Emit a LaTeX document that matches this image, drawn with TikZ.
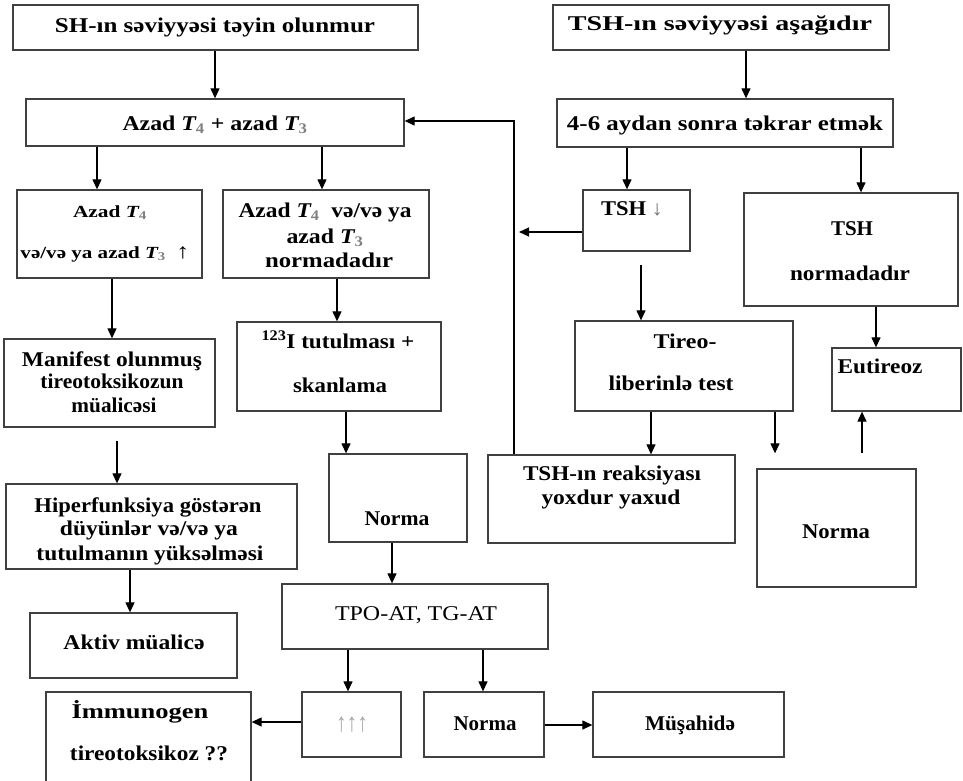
\documentclass[tikz,border=0pt]{standalone}
\usepackage{fontspec}
\setmainfont{Liberation Serif}
\usetikzlibrary{arrows.meta}
% stretch a line of text to a given width (in pt), keeping its height
\newcommand\fitw[2]{\resizebox{#1pt}{\height}{#2}}
\newcommand\Tsub[1]{{\itshape T}\textsubscript{\textcolor{gray}{#1}}}
\begin{document}
\begin{tikzpicture}[x=1pt,y=-1pt,
  box/.style={draw=black!75, line width=1.3pt, inner sep=0pt, anchor=center},
  txt/.style={font=\fontsize{21}{24}\selectfont\bfseries, inner sep=0pt, anchor=mid, yshift=-3pt},
  txtr/.style={font=\fontsize{21}{24}\selectfont, inner sep=0pt, anchor=mid, yshift=-3pt},
  arr/.style={-{Triangle[length=10pt,width=9pt]}, line width=1.2pt}]
\clip (0,0) rectangle (963,781);
\fill[white] (0,0) rectangle (963,781);

% boxes
\node[box, minimum width=405pt, minimum height=45pt] (b1) at (215.5,27.5) {};
\node[box, minimum width=378pt, minimum height=47pt] (b2) at (215,122.5) {};
\node[box, minimum width=336pt, minimum height=45pt] (b3) at (721,27.5) {};
\node[box, minimum width=336pt, minimum height=48pt] (b4) at (725,123) {};
\node[box, minimum width=185pt, minimum height=88pt] (b5) at (109.5,234) {};
\node[box, minimum width=206pt, minimum height=88pt] (b6) at (326,234) {};
\node[box, minimum width=107pt, minimum height=61pt] (b7) at (636.5,220.5) {};
\node[box, minimum width=214pt, minimum height=113pt] (b8) at (851,249.5) {};
\node[box, minimum width=211pt, minimum height=88pt] (b9) at (109.5,383) {};
\node[box, minimum width=204pt, minimum height=89pt] (b10) at (339,366.5) {};
\node[box, minimum width=218pt, minimum height=90pt] (b11) at (684,366) {};
\node[box, minimum width=129pt, minimum height=63pt] (b12) at (896.5,379.5) {};
\node[box, minimum width=291pt, minimum height=85pt] (b13) at (151.5,526.5) {};
\node[box, minimum width=138pt, minimum height=88pt] (b14) at (398,498) {};
\node[box, minimum width=247pt, minimum height=88pt] (b15) at (611.5,499) {};
\node[box, minimum width=159pt, minimum height=118pt] (b16) at (836.5,528) {};
\node[box, minimum width=266pt, minimum height=65pt] (b17) at (415,616.5) {};
\node[box, minimum width=207pt, minimum height=65pt] (b18) at (133.5,645.5) {};
\node[box, minimum width=205pt, minimum height=108pt] (b19) at (148.5,746) {};
\node[box, minimum width=99pt, minimum height=65pt] (b20) at (351.5,724.5) {};
\node[box, minimum width=120pt, minimum height=65pt] (b21) at (484,724.5) {};
\node[box, minimum width=191pt, minimum height=65pt] (b22) at (688.5,724.5) {};

% texts
\node[txt] (t1) at (215,27) {\fitw{320}{SH-ın səviyyəsi təyin olunmur}};
\node[txt] (t2) at (215,125) {\fitw{185}{Azad \Tsub{4} + azad \Tsub{3}}};
\node[txt] (t3) at (720,25) {\fitw{304}{TSH-ın səviyyəsi aşağıdır}};
\node[txt] (t4) at (725,125) {\fitw{316}{4-6 aydan sonra təkrar etmək}};
\node[txt, font=\fontsize{17}{20}\selectfont\bfseries] (t5a) at (110,212) {\fitw{74}{Azad \Tsub{4}}};
\node[txt, font=\fontsize{17}{20}\selectfont\bfseries] (t5b) at (105,253) {\fitw{169}{və/və ya azad \Tsub{3}\enspace{\fontsize{21}{24}\selectfont\mdseries ↑}}};
\node[txt] (t6a) at (325,212) {\fitw{173}{Azad \Tsub{4}\enspace və/və ya}};
\node[txt] (t6b) at (325,238) {\fitw{77}{azad \Tsub{3}}};
\node[txt] (t6c) at (329,262) {\fitw{128}{normadadır}};
\node[txt] (t7) at (632,210) {\fitw{62}{TSH {\mdseries\color{black!55}↓}}};
\node[txt] (t8a) at (852,230) {\fitw{42}{TSH}};
\node[txt] (t8b) at (850,275) {\fitw{120}{normadadır}};
\node[txt] (t9a) at (112,361) {\fitw{180}{Manifest olunmuş}};
\node[txt] (t9b) at (112,383) {\fitw{143}{tireotoksikozun}};
\node[txt] (t9c) at (114,407) {\fitw{85}{müalicəsi}};
\node[txt] (t10a) at (338,343) {\fitw{153}{\textsuperscript{123}I tutulması +}};
\node[txt] (t10b) at (340,387) {\fitw{94}{skanlama}};
\node[txt] (t11a) at (685,343) {\fitw{63}{Tireo-}};
\node[txt] (t11b) at (671,385) {\fitw{125}{liberinlə test}};
\node[txt] (t12) at (880,368) {\fitw{85}{Eutireoz}};
\node[txt] (t13a) at (148,507) {\fitw{227}{Hiperfunksiya göstərən}};
\node[txt] (t13b) at (149,530) {\fitw{178}{düyünlər və/və ya}};
\node[txt] (t13c) at (150,555) {\fitw{227}{tutulmanın yüksəlməsi}};
\node[txt] (t14) at (397,520) {\fitw{65}{Norma}};
\node[txt] (t15a) at (612,475) {\fitw{178}{TSH-ın reaksiyası}};
\node[txt] (t15b) at (611,499) {\fitw{139}{yoxdur yaxud}};
\node[txt] (t16) at (836,533) {\fitw{68}{Norma}};
\node[txtr] (t17) at (416,615) {\fitw{162}{TPO-AT, TG-AT}};
\node[txt] (t18) at (134,644) {\fitw{141}{Aktiv müalicə}};
\node[txt] (t19a) at (140,713) {\fitw{137}{İmmunogen}};
\node[txt] (t19b) at (149,755) {\fitw{158}{tireotoksikoz ??}};
\node[txtr, text=black!35, font=\fontsize{26}{28}\selectfont] (t20) at (352,726) {\fitw{32}{↑↑↑}};
\node[txt] (t21) at (485,725) {\fitw{63}{Norma}};
\node[txt] (t22) at (690,725) {\fitw{90}{Müşahidə}};

% connectors
\draw[arr] (b1.south -| 215,0) -- (b2.north -| 215,0);
\draw[arr] (b3.south -| 746,0) -- (b4.north -| 746,0);
\draw[arr] (b2.south -| 97,0) -- (b5.north -| 97,0);
\draw[arr] (b2.south -| 322,0) -- (b6.north -| 322,0);
\draw[arr] (b4.south -| 627,0) -- (b7.north -| 627,0);
\draw[arr] (b4.south -| 861,0) -- (b8.north -| 861,0);
\draw[arr] (b5.south -| 112,0) -- (b9.north -| 112,0);
\draw[arr] (b6.south -| 337,0) -- (b10.north -| 337,0);
\draw[arr, shorten <=13pt] (b7.south -| 641,0) -- (b11.north -| 641,0);
\draw[arr] (b8.south -| 876,0) -- (b12.north -| 876,0);
\draw[arr, shorten <=13pt] (b9.south -| 117,0) -- (b13.north -| 117,0);
\draw[arr] (b10.south -| 346,0) -- (b14.north -| 346,0);
\draw[arr] (b11.south -| 651,0) -- (b15.north -| 651,0);
\draw[arr, shorten >=15pt] (b11.south -| 775,0) -- (b16.north -| 775,0);
\draw[arr, shorten <=15pt] (b16.north -| 862,0) -- (b12.south -| 862,0);
\draw[arr] (b13.south -| 130,0) -- (b18.north -| 130,0);
\draw[arr] (b14.south -| 392,0) -- (b17.north -| 392,0);
\draw[arr] (b17.south -| 348,0) -- (b20.north -| 348,0);
\draw[arr] (b17.south -| 483,0) -- (b21.north -| 483,0);
\draw[arr] (b20.west |- 0,722) -- (b19.east |- 0,722);
\draw[arr] (b21.east |- 0,725) -- (b22.west |- 0,725);

% return path from the TSH reaction box back to the free T4/T3 test
\coordinate (rb) at (b15.north -| 514,0);
\coordinate (rt) at (514,121);
\draw[arr] (rb) -- (rt) -- (rt -| b2.east);
\draw[arr, shorten >=5pt] (b7.west |- 0,232) -- (rt |- 0,232);
\end{tikzpicture}
\end{document}
